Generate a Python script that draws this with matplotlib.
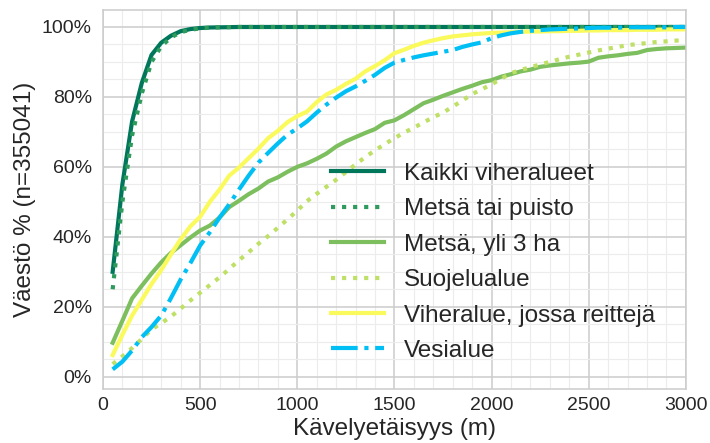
import matplotlib
matplotlib.use("Agg")
import matplotlib.pyplot as plt
from matplotlib.ticker import MultipleLocator, PercentFormatter

# walking distance (m)
distance = [50, 100, 150, 200, 250, 300, 350, 400, 450, 500,
            550, 600, 650, 700, 750, 800, 850, 900, 950, 1000,
            1050, 1100, 1150, 1200, 1250, 1300, 1350, 1400, 1450, 1500,
            1550, 1600, 1650, 1700, 1750, 1800, 1850, 1900, 1950, 2000,
            2050, 2100, 2150, 2200, 2250, 2300, 2350, 2400, 2450, 2500,
            2550, 2600, 2650, 2700, 2750, 2800, 2850, 2900, 2950, 3000]

# share of population (%) within distance
kaikki = [30, 55, 73, 84, 92, 95.5, 97.5, 98.8, 99.4, 99.7,
          99.85, 99.9, 99.95, 100, 100, 100, 100, 100, 100, 100,
          100, 100, 100, 100, 100, 100, 100, 100, 100, 100,
          100, 100, 100, 100, 100, 100, 100, 100, 100, 100,
          100, 100, 100, 100, 100, 100, 100, 100, 100, 100,
          100, 100, 100, 100, 100, 100, 100, 100, 100, 100]
metsa_puisto = [25, 50, 69, 81, 90, 94.5, 97, 98.5, 99.2, 99.6,
                99.8, 99.9, 99.95, 100, 100, 100, 100, 100, 100, 100,
                100, 100, 100, 100, 100, 100, 100, 100, 100, 100,
                100, 100, 100, 100, 100, 100, 100, 100, 100, 100,
                100, 100, 100, 100, 100, 100, 100, 100, 100, 100,
                100, 100, 100, 100, 100, 100, 100, 100, 100, 100]
metsa_3ha = [9.7, 16, 22.4, 26, 29.5, 32.7, 35.4, 37.6, 39.8, 41.8,
             43.2, 45.5, 48.5, 50.3, 52.2, 53.8, 55.8, 57, 58.6, 60,
             61, 62.3, 63.8, 65.8, 67.3, 68.5, 69.7, 70.8, 72.6, 73.3,
             74.8, 76.5, 78.2, 79.2, 80.3, 81.3, 82.3, 83.2, 84.2, 84.8,
             85.8, 86.5, 87.3, 87.8, 88.6, 89, 89.3, 89.6, 89.8, 90.1,
             91.2, 91.6, 91.9, 92.3, 92.6, 93.4, 93.7, 93.9, 94, 94.1]
suojelu = [3.6, 5.8, 8.2, 10.8, 13.5, 15.3, 17.2, 19.5, 21.8, 24,
           26.2, 28.4, 30.8, 33.3, 35.6, 38, 40.2, 42.6, 45, 47.5,
           50.2, 52.3, 54.3, 56.3, 58.5, 60.7, 62.8, 64.7, 66.5, 68.2,
           69.8, 71.2, 72.7, 74.2, 75.5, 77.2, 79, 80.8, 82.2, 83.6,
           85.2, 86.8, 87.7, 88.5, 89.3, 90, 90.8, 91.5, 92.1, 92.7,
           93.3, 93.8, 94.3, 94.8, 95.1, 95.4, 95.7, 95.9, 96.1, 96.3]
reitit = [6.2, 12, 17.5, 22, 26.5, 30.5, 35, 39.3, 43, 45.7,
          50, 53.5, 57.5, 59.8, 62.5, 65.2, 68.2, 70.3, 72.8, 74.5,
          75.8, 78.5, 80.7, 82, 83.7, 85.2, 87.3, 88.8, 90.5, 92.5,
          93.5, 94.6, 95.5, 96.2, 96.8, 97.3, 97.6, 97.9, 98.1, 98.3,
          98.4, 98.5, 98.6, 98.7, 98.7, 98.8, 98.8, 98.9, 98.9, 99,
          99, 99.1, 99.1, 99.1, 99.2, 99.2, 99.2, 99.3, 99.3, 99.3]
vesi = [2.1, 4.3, 7.5, 11.3, 14.2, 17.5, 22.5, 27.8, 32.5, 37.5,
        41.3, 45.5, 49.3, 53.5, 57.5, 61.2, 64, 66.7, 69.2, 71,
        73, 75.5, 77.8, 79.8, 81.6, 83, 84.6, 86.3, 88.3, 89.8,
        90.6, 91.3, 91.9, 92.4, 92.9, 93.4, 94.3, 95, 95.6, 96.8,
        97.6, 98.2, 98.6, 98.9, 99.1, 99.3, 99.4, 99.5, 99.6, 99.7,
        99.8, 99.8, 99.8, 99.9, 99.9, 99.9, 99.9, 99.9, 100, 100]

series = [
    ("Kaikki viheralueet", kaikki, "#00775a", "-"),
    ("Metsä tai puisto", metsa_puisto, "#2e9a5c", ":"),
    ("Metsä, yli 3 ha", metsa_3ha, "#7dbf5e", "-"),
    ("Suojelualue", suojelu, "#bfe066", ":"),
    ("Viheralue, jossa reittejä", reitit, "#fafa5c", "-"),
    ("Vesialue", vesi, "#00bff5", "-."),
]

plt.rcParams["font.family"] = ["Liberation Sans", "DejaVu Sans"]
plt.rcParams["text.color"] = "#262626"
plt.rcParams["axes.labelcolor"] = "#262626"
plt.rcParams["xtick.color"] = "#262626"
plt.rcParams["ytick.color"] = "#262626"

fig = plt.figure(figsize=(7.1, 4.43), dpi=100)
ax = fig.add_axes([0.145, 0.122, 0.821, 0.855])

for label, vals, color, ls in series:
    ax.plot(distance, vals, color=color, linestyle=ls, lw=3, label=label)

ax.set_xlim(0, 3000)
ax.set_ylim(-3.5, 104.8)
ax.xaxis.set_major_locator(MultipleLocator(500))
ax.xaxis.set_minor_locator(MultipleLocator(100))
ax.yaxis.set_major_locator(MultipleLocator(20))
ax.yaxis.set_minor_locator(MultipleLocator(5))
ax.yaxis.set_major_formatter(PercentFormatter(100, decimals=0))
ax.grid(which="major", color="#cccccc", lw=1.1)
ax.grid(which="minor", color="#ececec", lw=0.8)
ax.set_axisbelow(True)
ax.tick_params(which="both", length=0, labelsize=14)
ax.tick_params(axis="y", pad=8)
ax.tick_params(axis="x", pad=6)
for sp in ax.spines.values():
    sp.set_color("#cccccc")
    sp.set_linewidth(1.1)

ax.set_xlabel("Kävelyetäisyys (m)", fontsize=17.5, labelpad=3)
ax.set_ylabel("Väestö % (n=355041)", fontsize=17.5, labelpad=4)

ax.legend(loc="center left", bbox_to_anchor=(0.353, 0.334), frameon=False,
          fontsize=17.5, handlelength=2.2, handletextpad=0.8,
          labelspacing=0.55)

fig.savefig("out.png", dpi=100)
